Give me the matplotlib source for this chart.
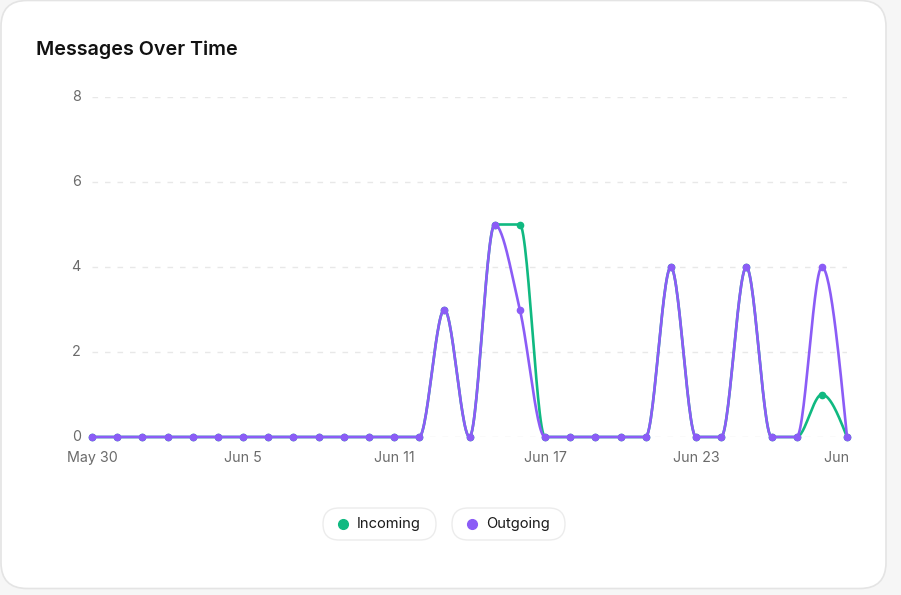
import numpy as np
import matplotlib
matplotlib.use("Agg")
import matplotlib.pyplot as plt
from matplotlib.patches import FancyBboxPatch
from matplotlib.transforms import Bbox, TransformedBbox

# data
dates = ["May 30", "May 31", "Jun 1", "Jun 2", "Jun 3", "Jun 4", "Jun 5", "Jun 6",
         "Jun 7", "Jun 8", "Jun 9", "Jun 10", "Jun 11", "Jun 12", "Jun 13", "Jun 14",
         "Jun 15", "Jun 16", "Jun 17", "Jun 18", "Jun 19", "Jun 20", "Jun 21", "Jun 22",
         "Jun 23", "Jun 24", "Jun 25", "Jun 26", "Jun 27", "Jun 28", "Jun 29"]
incoming = [0, 0, 0, 0, 0, 0, 0, 0, 0, 0, 0, 0, 0, 0, 3, 0,
            5, 5, 0, 0, 0, 0, 0, 4, 0, 0, 4, 0, 0, 1, 0]
outgoing = [0, 0, 0, 0, 0, 0, 0, 0, 0, 0, 0, 0, 0, 0, 3, 0,
            5, 3, 0, 0, 0, 0, 0, 4, 0, 0, 4, 0, 0, 4, 0]
y_ticks = [0, 2, 4, 6, 8]
tick_idx = [0, 6, 12, 18, 24, 30]

GREEN = "#10b981"
PURPLE = "#8b5cf6"
W, H = 901, 595


def monotone_curve(x, y, n=30):
    """monotone cubic (like d3 curveMonotoneX) for smooth drawing"""
    x = np.asarray(x, float)
    y = np.asarray(y, float)
    h = np.diff(x)
    s = np.diff(y) / h
    m = np.zeros_like(y)
    for i in range(1, len(y) - 1):
        s0, s1 = s[i - 1], s[i]
        p = (s0 * h[i] + s1 * h[i - 1]) / (h[i - 1] + h[i])
        m[i] = (np.sign(s0) + np.sign(s1)) * min(abs(s0), abs(s1), 0.5 * abs(p))
    m[0] = (3 * s[0] - m[1]) / 2
    m[-1] = (3 * s[-1] - m[-2]) / 2
    xs, ys = [], []
    for i in range(len(y) - 1):
        t = np.linspace(0, 1, n)
        h00 = 2 * t**3 - 3 * t**2 + 1
        h10 = t**3 - 2 * t**2 + t
        h01 = -2 * t**3 + 3 * t**2
        h11 = t**3 - t**2
        xs.append(x[i] + t * h[i])
        ys.append(h00 * y[i] + h10 * h[i] * m[i] + h01 * y[i + 1] + h11 * h[i] * m[i + 1])
    return np.concatenate(xs), np.concatenate(ys)


fig = plt.figure(figsize=(W / 100, H / 100), dpi=100)
fig.patch.set_facecolor("#f6f6f6")

# background axes in pixel coords for card, title, legend
bg = fig.add_axes([0, 0, 1, 1])
bg.set_xlim(0, W)
bg.set_ylim(H, 0)
bg.axis("off")
bg.add_patch(FancyBboxPatch((1, 0.5), 885, 588, boxstyle="round,pad=0,rounding_size=26",
                            facecolor="white", edgecolor="#e4e4e4", linewidth=1.2))
bg.text(36, 50, "Messages Over Time", fontsize=14.2, fontweight="semibold",
        family="Inter", color="#111111", va="center", ha="left")

legend = [("Incoming", GREEN, 323, 113), ("Outgoing", PURPLE, 452, 113)]
for label, col, x0, w in legend:
    bg.add_patch(FancyBboxPatch((x0, 508), w, 32, boxstyle="round,pad=0,rounding_size=16",
                                facecolor="white", edgecolor="#ececec", linewidth=1))
    bg.plot(x0 + 20, 524, "o", color=col, markersize=7)
    bg.text(x0 + 34, 524, label, fontsize=10.6, family="Inter", color="#1a1a1a",
            va="center", ha="left")

# main chart
x = np.arange(len(dates))
ax = fig.add_axes([92 / W, (H - 437) / H, (847 - 92) / W, (437 - 97) / H])
ax.set_xlim(0, len(dates) - 1)
ax.set_ylim(0, 8)
ax.patch.set_alpha(0)
for sp in ax.spines.values():
    sp.set_visible(False)
ax.set_xticks([])
ax.set_yticks([])

for yt in y_ticks:
    ax.axhline(yt, color="#e8e8e8", linewidth=1, linestyle=(0, (4, 5)), zorder=0)
    ax.text(-0.45, yt, str(yt), fontsize=10.3, family="Inter", color="#6b6b6b",
            ha="right", va="center")

clip_box = TransformedBbox(Bbox([[0, 0], [853 / W, 1]]), fig.transFigure)
for i in tick_idx:
    t = ax.text(x[i], -0.5, dates[i], fontsize=10.3, family="Inter", color="#6b6b6b",
                ha="center", va="center", clip_on=True)
    t.set_clip_path(None)
    t.set_clip_box(clip_box)

for vals, col, z in [(incoming, GREEN, 2), (outgoing, PURPLE, 3)]:
    cx, cy = monotone_curve(x, vals)
    ax.plot(cx, cy, color=col, linewidth=1.9, clip_on=False, zorder=z,
            solid_capstyle="round")
    ax.plot(x, vals, "o", color=col, markersize=4.5, clip_on=False, zorder=z)

fig.savefig("out.png", dpi=100, facecolor=fig.get_facecolor())
